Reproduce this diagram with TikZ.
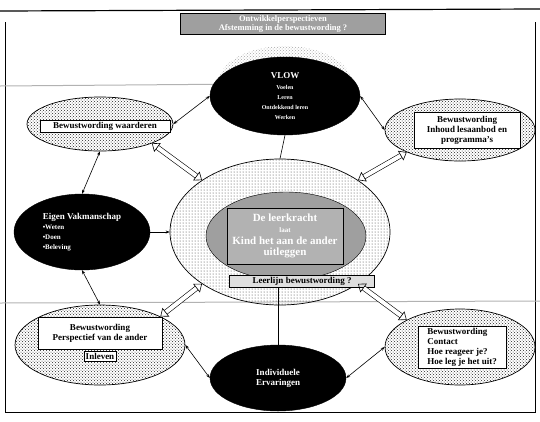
\documentclass[tikz,border=0pt]{standalone}
\usepackage{fontspec}
\setmainfont{Liberation Serif}
\usetikzlibrary{arrows.meta,shapes.geometric,patterns,positioning}
\newcommand\klein{\fontsize{6}{7}\selectfont}
\newcommand\middel{\fontsize{7}{8}\selectfont}

\begin{document}
\begin{tikzpicture}[
    x=1pt, y=-1pt,
    >=Stealth,
    font=\bfseries\fontsize{9}{10}\selectfont,
    zwart/.style={ellipse, draw, fill=black, text=white, inner sep=0pt, align=center},
    licht/.style={ellipse, draw, line width=0.7pt, pattern=crosshatch dots, pattern color=black!85, inner sep=0pt},
    kader/.style={draw, fill=white, inner sep=2pt, align=center},
    dun/.style={line width=0.6pt, {Stealth[length=4pt]}-{Stealth[length=4pt]}},
    hol/.style={line width=0.6pt, double=white, double distance=4pt,
        {Triangle[open, length=7pt, width=11pt]}-{Triangle[open, length=7pt, width=11pt]}},
    scan/.style={gray!60, line width=1pt}
]
\useasboundingbox (0,0) rectangle (540,421);

% frame and ruled lines
\draw[line width=0.6pt] (5,22) -- (5,412) -- (535,412) -- (535,22);
\draw[line width=1.2pt] (0,11) -- (540,9);
\draw[scan] (0,86) -- (250,84);
\draw[scan] (0,303) -- (540,301);

% title
\node[draw, fill=gray!75, text=white, align=center, inner sep=1.5pt, minimum width=205pt,
    minimum height=21pt, font=\bfseries\fontsize{8.5}{9.5}\selectfont]
    (titel) at (283,24) {Ontwikkelperspectieven\\Afstemming in de bewustwording ?};

% -------- top --------
\fill[pattern=crosshatch dots, pattern color=gray!70] (285,82) ellipse (66 and 36);
\node[zwart, minimum width=150pt, minimum height=78pt] (vlow) at (285,96)
    {VLOW\\[1pt]\klein Voelen\\\klein Leren\\\klein Ontdekkend leren\\\klein Werken};

\node[licht, minimum width=146pt, minimum height=54pt] (waarde) at (100,124) {};
\node[kader, minimum width=130pt] (waardetxt) at (105,126) {Bewustwording waarderen};

\node[licht, minimum width=150pt, minimum height=62pt] (inhoud) at (460,130) {};
\node[kader, minimum width=106pt, minimum height=36pt] (inhoudtxt) at (467,130)
    {Bewustwording\\Inhoud lesaanbod en\\programma's};

% -------- middle --------
\node[zwart, minimum width=136pt, minimum height=76pt, align=left] (vak) at (82,232)
    {Eigen Vakmanschap\\\middel\textbullet Weten\\\middel\textbullet Doen\\\middel\textbullet Beleving};

\node[ellipse, draw, line width=0.7pt, pattern=dots, pattern color=black!80,
    minimum width=220pt, minimum height=146pt] (kern) at (280,232) {};
\node[ellipse, draw, fill=gray!75, minimum width=160pt, minimum height=88pt] (kernin) at (286,236) {};
\node[draw, fill=gray!60, text=white, minimum width=116pt, minimum height=56pt, align=center,
    font=\bfseries\fontsize{11}{11.5}\selectfont] (kerntxt) at (285,236)
    {De leerkracht\\\middel laat\\Kind het aan de ander\\uitleggen};
\node[draw, fill=gray!25, inner sep=2pt, minimum width=145pt] (vraag) at (302,281) {Leerlijn bewustwording ?};

% -------- bottom --------
\node[licht, minimum width=170pt, minimum height=80pt] (ander) at (100,345) {};
\node[kader, minimum width=124pt, minimum height=32pt] (andertxt) at (100,333)
    {Bewustwording\\Perspectief van de ander};
\node[draw, fill=white, inner sep=1.5pt, below=2pt of andertxt] (inleven) {Inleven};

\node[licht, minimum width=150pt, minimum height=76pt] (contact) at (460,347) {};
\node[kader, align=left, minimum width=88pt] (contacttxt) at (462,347)
    {Bewustwording\\Contact\\Hoe reageer je?\\Hoe leg je het uit?};

\node[zwart, minimum width=136pt, minimum height=66pt] (ervaring) at (278,378)
    {Individuele\\Ervaringen};

% -------- connectors --------
\draw[dun] (waarde.east) -- (vlow.west);
\draw[dun] (vlow.east) -- (inhoud.west);
\draw[dun] (waarde.south) -- (vak.north);
\draw[dun] (vak.south) -- (ander.north);
\draw[dun] (ander.east) -- (ervaring.west);
\draw[dun] (ervaring.east) -- (contact.west);
\draw[-{Stealth[length=4pt]}, line width=0.6pt] (vak.east) -- (kern.west);
\draw[line width=0.6pt] (vlow.south) -- (kern.north);
\draw[line width=0.6pt] (ervaring.north) -- (vraag.south -| ervaring.north);

% hollow arrows to the corners
\draw[hol] (kern.north west) -- (waarde.south east);
\draw[hol] (kern.north east) -- (inhoud.south west);
\draw[hol] (kern.south west) -- (ander.north east);
\draw[hol] (kern.south east) -- (contact.north west);
\end{tikzpicture}
\end{document}
